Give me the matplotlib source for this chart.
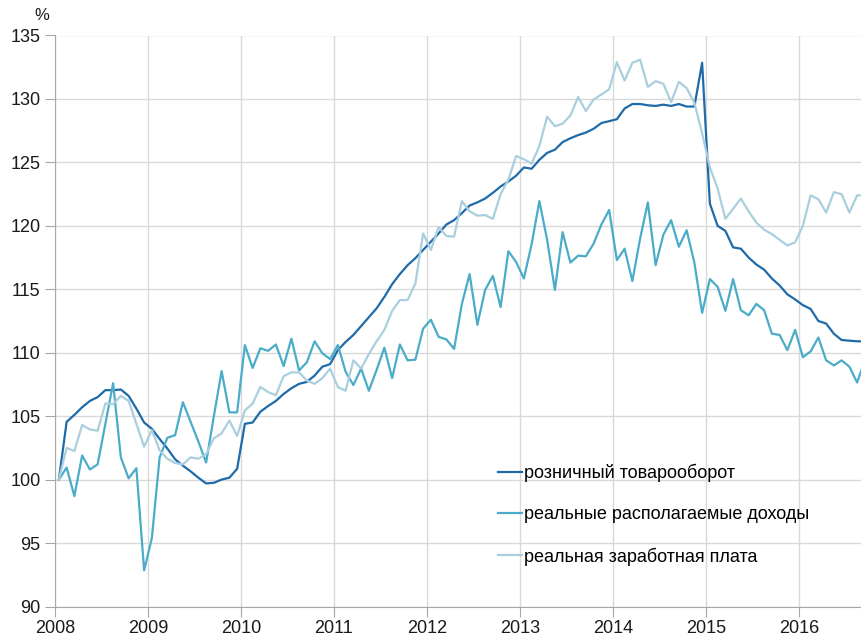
import numpy as np
import matplotlib
matplotlib.use('Agg')
from matplotlib import pyplot as plt

plt.rcParams['font.family'] = ['Liberation Sans', 'DejaVu Sans']

# monthly index, first month = 100
retail = [100.0, 104.55, 105.1, 105.7, 106.2, 106.5, 107.05, 107.05, 107.1, 106.6,
          105.6, 104.5, 104.0, 103.2, 102.45, 101.6, 101.1, 100.65, 100.15, 99.7,
          99.75, 100.0, 100.15, 100.85, 104.4, 104.5, 105.35, 105.8, 106.2, 106.75,
          107.2, 107.55, 107.7, 108.2, 108.9, 109.1, 110.2, 110.85, 111.4, 112.1,
          112.8, 113.5, 114.4, 115.4, 116.2, 116.9, 117.45, 118.1, 118.75, 119.4,
          120.1, 120.45, 121.0, 121.6, 121.85, 122.15, 122.6, 123.1, 123.5, 123.95,
          124.6, 124.5, 125.2, 125.75, 126.0, 126.6, 126.9, 127.15, 127.35, 127.65,
          128.1, 128.25, 128.4, 129.25, 129.6, 129.6, 129.5, 129.45, 129.55, 129.45,
          129.6, 129.4, 129.4, 132.85, 121.75, 120.0, 119.6, 118.3, 118.2, 117.5,
          116.95, 116.55, 115.85, 115.3, 114.6, 114.2, 113.75, 113.45, 112.5, 112.3,
          111.5, 111.0, 110.95, 110.9, 110.9]

income = [100.0, 100.95, 98.7, 101.9, 100.8, 101.2, 104.4, 107.6, 101.75, 100.1,
          100.9, 92.85, 95.4, 101.75, 103.3, 103.5, 106.1, 104.55, 103.0, 101.35,
          105.0, 108.55, 105.3, 105.3, 110.6, 108.8, 110.35, 110.15, 110.65, 108.95,
          111.1, 108.6, 109.25, 110.9, 109.95, 109.5, 110.6, 108.5, 107.45, 108.75,
          107.0, 108.65, 110.4, 108.0, 110.65, 109.4, 109.45, 111.9, 112.6, 111.25,
          111.05, 110.3, 113.85, 116.2, 112.2, 114.95, 116.05, 113.6, 118.0, 117.15,
          115.85, 118.55, 121.95, 118.9, 114.95, 119.5, 117.1, 117.65, 117.6, 118.6,
          120.1, 121.25, 117.3, 118.2, 115.65, 119.0, 121.85, 116.9, 119.3, 120.45,
          118.35, 119.65, 117.1, 113.15, 115.8, 115.2, 113.3, 115.8, 113.35, 112.95,
          113.85, 113.35, 111.5, 111.4, 110.2, 111.8, 109.65, 110.1, 111.2, 109.4,
          109.0, 109.4, 108.9, 107.65, 109.4]

wages = [100.0, 102.5, 102.25, 104.3, 103.95, 103.85, 106.0, 105.95, 106.6, 106.2,
         104.4, 102.6, 103.9, 102.3, 101.65, 101.3, 101.2, 101.75, 101.65, 102.0,
         103.25, 103.65, 104.65, 103.45, 105.45, 106.0, 107.3, 106.9, 106.65, 108.15,
         108.45, 108.45, 107.8, 107.55, 108.0, 108.75, 107.3, 107.0, 109.4, 108.75,
         109.9, 110.9, 111.8, 113.3, 114.15, 114.15, 115.45, 119.4, 118.1, 119.9,
         119.2, 119.15, 121.95, 121.15, 120.8, 120.85, 120.55, 122.5, 123.65, 125.5,
         125.25, 124.9, 126.3, 128.6, 127.85, 128.05, 128.7, 130.15, 129.05, 129.95,
         130.35, 130.75, 132.9, 131.45, 132.85, 133.1, 130.95, 131.4, 131.2, 129.75,
         131.35, 130.85, 129.7, 127.3, 124.6, 122.95, 120.55, 121.35, 122.15, 121.15,
         120.25, 119.7, 119.35, 118.9, 118.45, 118.7, 120.0, 122.4, 122.1, 121.05,
         122.65, 122.5, 121.05, 122.4, 122.4]

years = ['2008', '2009', '2010', '2011', '2012', '2013', '2014', '2015', '2016']
labels = ['розничный товарооборот', 'реальные располагаемые доходы',
          'реальная заработная плата']
colors = ['#1f6aa8', '#4aacc8', '#a9cfdf']

x = np.arange(len(retail)) + 0.5

fig = plt.figure(figsize=(8.62, 6.4), dpi=100)
ax = fig.add_axes([55 / 862, 1 - 606.5 / 640, 1 - 55 / 862, 571 / 640])

for series, lab, col in zip([retail, income, wages], labels, colors):
    ax.plot(x, series, color=col, lw=1.6, label=lab, solid_joinstyle='round')

ax.set_xlim(0, 104.13)
ax.set_ylim(90, 135)
ax.set_xticks(np.arange(len(years)) * 12)
ax.set_xticklabels(years)
ax.set_yticks(np.arange(90, 136, 5))
ax.grid(True, color='#d9d9d9', lw=1)
ax.set_axisbelow(True)
for side in ['top', 'right']:
    ax.spines[side].set_visible(False)
for side in ['left', 'bottom']:
    ax.spines[side].set_color('#a6a6a6')
ax.tick_params(axis='both', colors='#a6a6a6', labelcolor='#1a1a1a',
               labelsize=13, length=7, direction='out')
ax.tick_params(axis='x', pad=3)

fig.text(42 / 862, 1 - 15 / 640, '%', fontsize=12, ha='center', va='center',
         color='#1a1a1a')

leg = ax.legend(loc='upper left', bbox_to_anchor=(0.54, 0.262), frameon=False,
                fontsize=13, handlelength=1.35, handletextpad=0.1,
                labelspacing=1.33, borderaxespad=0)

fig.savefig('out.png', dpi=100)
